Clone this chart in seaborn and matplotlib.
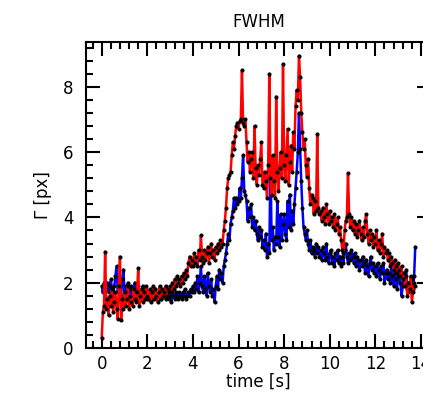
import numpy as np
import matplotlib
matplotlib.use("Agg")
import matplotlib.pyplot as plt
from matplotlib.ticker import MultipleLocator, AutoMinorLocator
import seaborn as sns

# FWHM of the two components, one value every 0.05 s (10 per row = 0.5 s)
blue_fwhm = [
    1.9, 1.7, 2.0, 1.6, 1.8, 2.0, 1.7, 1.9, 2.1, 1.8,
    1.6, 1.9, 2.2, 2.5, 1.7, 1.8, 2.0, 1.6, 2.1, 2.4,
    1.7, 1.9, 1.6, 2.0, 1.5, 1.8, 1.9, 1.6, 1.7, 2.0,
    1.8, 1.5, 1.9, 1.7, 1.6, 1.8, 1.9, 1.6, 1.8, 1.7,
    1.5, 1.7, 1.6, 1.8, 1.6, 1.5, 1.7, 1.8, 1.6, 1.5,
    1.7, 1.6, 1.5, 1.7, 1.6, 1.8, 1.5, 1.6, 1.7, 1.5,
    1.6, 1.4, 1.7, 1.6, 1.5, 1.7, 1.6, 1.5, 1.7, 1.6,
    1.5, 1.7, 1.6, 1.8, 1.5, 1.6, 1.7, 1.6, 1.8, 1.7,
    1.9, 1.7, 2.0, 1.8, 2.2, 1.7, 2.0, 2.5, 1.9, 1.7,
    2.2, 1.8, 1.6, 2.3, 1.9, 1.7, 2.1, 1.6, 1.8, 1.4,
    1.9, 2.2, 1.8, 2.4, 2.1, 2.3, 2.0, 2.5, 2.7, 2.9,
    3.2, 3.5, 3.3, 3.8, 4.0, 4.2, 4.6, 4.3, 4.6, 4.4,
    4.5, 4.9, 4.6, 5.2, 5.9, 4.8, 4.7, 4.5, 3.9, 4.3,
    4.0, 4.4, 3.7, 4.0, 3.6, 3.9, 3.5, 3.3, 3.7, 3.4,
    3.6, 3.1, 3.3, 3.0, 3.5, 2.8, 3.2, 2.9, 5.8, 3.3,
    3.7, 3.0, 3.4, 3.2, 4.5, 3.4, 3.1, 4.1, 3.3, 3.8,
    4.1, 3.5, 3.3, 4.5, 3.7, 4.7, 3.6, 4.2, 3.8, 4.4,
    4.9, 5.4, 6.0, 7.2, 6.1, 5.1, 4.3, 3.7, 3.5, 3.3,
    3.6, 3.2, 3.0, 3.3, 2.9, 3.1, 3.0, 2.8, 3.2, 2.9,
    3.1, 2.8, 3.0, 2.7, 3.1, 2.9, 2.7, 3.2, 2.8, 2.6,
    2.9, 3.0, 2.6, 2.8, 2.5, 2.9, 2.7, 3.0, 2.6, 2.8,
    2.5, 2.8, 2.6, 3.0, 3.2, 2.8, 2.6, 2.9, 2.7, 3.0,
    2.8, 2.6, 2.9, 2.5, 2.8, 2.7, 2.4, 2.7, 2.5, 2.8,
    2.6, 2.3, 2.7, 2.5, 2.2, 2.6, 2.8, 2.4, 2.6, 2.3,
    2.5, 2.2, 2.6, 2.4, 2.1, 2.5, 2.3, 2.6, 2.0, 2.3,
    2.4, 2.1, 2.3, 2.0, 2.5, 2.2, 1.9, 2.3, 2.1, 1.8,
    2.2, 2.4, 2.0, 1.6, 1.9, 2.3, 2.0, 2.4, 1.8, 2.0,
    1.7, 1.9, 2.1, 1.8, 2.2, 3.1,
]

red_fwhm = [
    0.3, 1.1, 1.3, 2.95, 1.2, 1.5, 1.0, 1.6, 1.3, 1.8,
    1.1, 1.4, 1.7, 1.2, 0.9, 1.9, 2.8, 0.85, 1.5, 1.2,
    1.7, 1.3, 1.5, 1.9, 1.2, 1.6, 1.4, 1.3, 1.8, 1.5,
    1.4, 1.7, 2.45, 1.3, 1.6, 1.8, 1.4, 1.7, 1.5, 1.9,
    1.6, 1.5, 1.8, 1.4, 1.7, 1.9, 1.5, 1.8, 1.6, 1.4,
    1.7, 1.9, 1.5, 1.8, 1.6, 1.7, 1.9, 1.6, 1.8, 1.7,
    1.9, 1.7, 2.0, 1.8, 2.1, 1.9, 2.2, 2.0, 2.1, 1.9,
    2.2, 2.0, 2.3, 2.1, 2.4, 2.2, 2.6, 2.8, 2.5, 2.7,
    2.5, 2.9, 2.6, 2.8, 2.5, 3.0, 2.7, 3.45, 2.8, 2.6,
    3.0, 2.7, 2.9, 3.1, 2.6, 2.9, 3.2, 2.8, 3.0, 2.7,
    3.1, 2.9, 3.2, 3.0, 3.3, 3.1, 3.2, 3.6, 3.9, 4.3,
    4.9, 5.2, 5.3, 5.4, 5.9, 6.3, 6.1, 6.5, 6.8, 6.9,
    6.7, 6.95, 7.0, 8.5, 6.9, 6.8, 7.0, 6.3, 5.7, 6.0,
    5.4, 5.8, 6.0, 5.2, 6.8, 5.5, 5.0, 5.6, 5.3, 5.8,
    6.3, 5.0, 4.9, 5.4, 5.1, 4.6, 5.6, 8.4, 5.2, 4.7,
    5.9, 5.1, 4.6, 7.7, 5.4, 4.8, 5.5, 6.0, 5.2, 8.7,
    5.6, 5.1, 5.9, 6.7, 5.0, 5.7, 6.2, 5.4, 6.6, 6.1,
    7.4, 7.9, 7.6, 8.95, 8.3, 7.2, 6.6, 6.1, 6.4, 5.6,
    5.25, 5.8, 4.9, 4.4, 4.7, 4.6, 4.1, 4.5, 4.2, 6.55,
    4.3, 4.1, 4.2, 3.9, 4.3, 4.0, 3.8, 4.4, 4.1, 3.8,
    4.2, 3.9, 4.0, 3.7, 4.1, 3.6, 3.8, 4.0, 3.5, 3.7,
    3.3, 3.0, 2.9, 3.6, 3.9, 4.0, 5.35, 4.1, 3.7, 4.0,
    3.6, 3.9, 3.5, 3.8, 3.4, 3.6, 3.9, 3.5, 3.3, 3.7,
    3.4, 3.9, 4.1, 3.5, 3.2, 3.6, 3.3, 3.5, 3.1, 3.4,
    3.2, 3.6, 3.0, 3.3, 2.9, 3.2, 3.5, 2.8, 3.1, 2.9,
    3.0, 2.7, 2.9, 2.5, 2.8, 2.6, 2.4, 2.7, 2.5, 2.3,
    2.6, 2.4, 2.2, 2.5, 2.1, 2.3, 1.9, 2.2, 1.6, 2.0,
    1.8, 2.2, 1.4, 1.7, 2.0, 1.9,
]

assert len(blue_fwhm) == len(red_fwhm)
time = np.linspace(0.0, 13.75, len(red_fwhm))

sns.set_style("ticks")
plt.rcParams['font.family'] = ['DejaVu Sans']
plt.rcParams['text.color'] = 'k'
plt.rcParams['axes.labelcolor'] = 'k'

fig = plt.figure(figsize=(4.23, 3.93), dpi=100)
ax = fig.add_axes([0.2033, 0.1145, 0.8156, 0.7786])

sns.lineplot(x=time, y=blue_fwhm, ax=ax, color='blue', lw=1.8,
             marker='o', markersize=2.2, markerfacecolor='k', markeredgecolor='k')
sns.lineplot(x=time, y=red_fwhm, ax=ax, color='red', lw=1.8,
             marker='o', markersize=2.2, markerfacecolor='k', markeredgecolor='k')

ax.set_xlim(-0.69, 14.44)
ax.set_ylim(0, 9.37)
ax.xaxis.set_major_locator(MultipleLocator(2))
ax.yaxis.set_major_locator(MultipleLocator(2))
ax.xaxis.set_minor_locator(AutoMinorLocator(5))
ax.yaxis.set_minor_locator(AutoMinorLocator(5))
ax.tick_params(which='both', direction='in', top=True, right=True, width=1.5,
               colors='k', labelcolor='k')
ax.tick_params(which='major', length=10, labelsize=12)
ax.tick_params(which='minor', length=5)
ax.tick_params(axis='y', which='major', pad=9)
ax.tick_params(axis='x', which='major', pad=5)
for s in ax.spines.values():
    s.set_linewidth(1.5)
    s.set_color('k')

ax.set_title('FWHM', fontsize=12, pad=11, color='k')
ax.set_xlabel('time [s]', fontsize=12, labelpad=0)
ax.set_ylabel('Γ [px]', fontsize=12, labelpad=8)

fig.savefig('out.png', dpi=100)
